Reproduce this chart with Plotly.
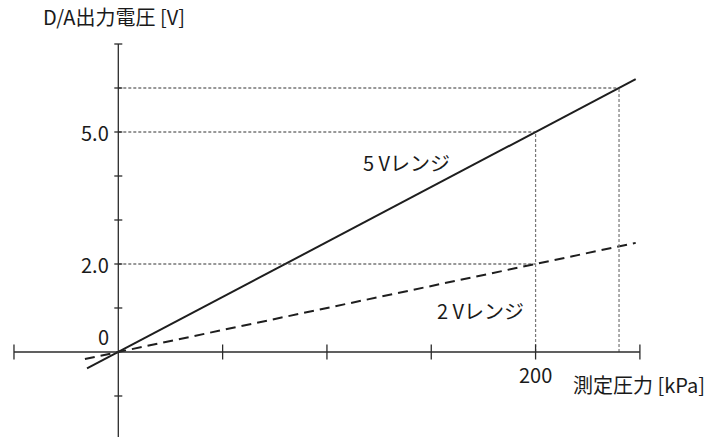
import plotly.graph_objects as go

# Measured pressure [kPa] and D/A output voltage [V]
pressure_ticks = [-50, 0, 50, 100, 150, 200, 250]
voltage_ticks = [-1, 0, 1, 2, 3, 4, 5, 6, 7]

# 5 V range: 0-200 kPa -> 0-5 V
range5_x = [-15, 248]
range5_y = [-0.375, 6.2]
# 2 V range: 0-200 kPa -> 0-2 V
range2_x = [-16, 248]
range2_y = [-0.16, 2.48]

# Guide points (pressure, voltage) marked with dotted lines
guide_points = [(200, 5.0), (200, 2.0), (240, 6.0)]

x_tick_labels = {200: "200"}
y_tick_labels = {5: "5.0", 2: "2.0"}

x_min, x_max = -56.7, 283.6
y_min, y_max = -1.932, 8.0
px_x = (x_max - x_min) / 710.0   # data units per pixel
px_y = (y_max - y_min) / 437.0

AXIS = "#2b2b2b"
LINE = "#1e1e1e"
TEXT = "#1a1a1a"
FONT = "Noto Sans CJK JP"

fig = go.Figure()

shapes = []
# horizontal guide lines to the voltage axis
for gx, gy in guide_points:
    shapes.append(dict(type="line", x0=0, x1=gx, y0=gy, y1=gy,
                       line=dict(color="#333333", width=1, dash="3px,2px")))
# vertical guide lines for the full-scale points on the 5 V range
for gx, gy in [guide_points[0], guide_points[2]]:
    shapes.append(dict(type="line", x0=gx, x1=gx, y0=0, y1=gy,
                       line=dict(color="#777777", width=1.2, dash="3px,2px")))

# axes
shapes.append(dict(type="line", x0=pressure_ticks[0], x1=pressure_ticks[-1], y0=0, y1=0,
                   line=dict(color=AXIS, width=1.3)))
shapes.append(dict(type="line", x0=0, x1=0, y0=y_min, y1=voltage_ticks[-1],
                   line=dict(color=AXIS, width=1.3)))
# pressure ticks
for t in pressure_ticks:
    if t == 0:
        continue
    shapes.append(dict(type="line", x0=t, x1=t, y0=-7.5 * px_y, y1=7.5 * px_y,
                       line=dict(color=AXIS, width=1.3)))
# voltage ticks
for t in voltage_ticks:
    if t == 0:
        continue
    shapes.append(dict(type="line", x0=-4 * px_x, x1=4 * px_x, y0=t, y1=t,
                       line=dict(color=AXIS, width=1.3)))

fig.add_trace(go.Scatter(x=range5_x, y=range5_y, mode="lines",
                         line=dict(color=LINE, width=2), hoverinfo="skip"))
fig.add_trace(go.Scatter(x=range2_x, y=range2_y, mode="lines",
                         line=dict(color=LINE, width=2, dash="10px,6px"), hoverinfo="skip"))

annotations = []


def label(text, x, y, xanchor="left", yanchor="middle", size=20):
    annotations.append(dict(text=text, x=x, y=y, xref="x", yref="y",
                            xanchor=xanchor, yanchor=yanchor, showarrow=False,
                            font=dict(family=FONT, size=size, color=TEXT)))


label("D/A出力電圧 [V]", -37, 7.62, size=20)
for v, txt in y_tick_labels.items():
    label(txt, -3.5, v, xanchor="right")
label("0", -3.5, 0.36, xanchor="right")
for p, txt in x_tick_labels.items():
    label(txt, p, -0.52, xanchor="center")
label("測定圧力 [kPa]", 217, -0.75)
label("5 Vレンジ", 116.5, 4.3)
label("2 Vレンジ", 152, 0.95)

fig.update_layout(
    width=710, height=437,
    margin=dict(l=0, r=0, t=0, b=0),
    paper_bgcolor="white", plot_bgcolor="white",
    showlegend=False,
    shapes=shapes,
    annotations=annotations,
    xaxis=dict(range=[x_min, x_max], visible=False, fixedrange=True),
    yaxis=dict(range=[y_min, y_max], visible=False, fixedrange=True),
)

fig.write_html("out.html", config={"displayModeBar": False})
